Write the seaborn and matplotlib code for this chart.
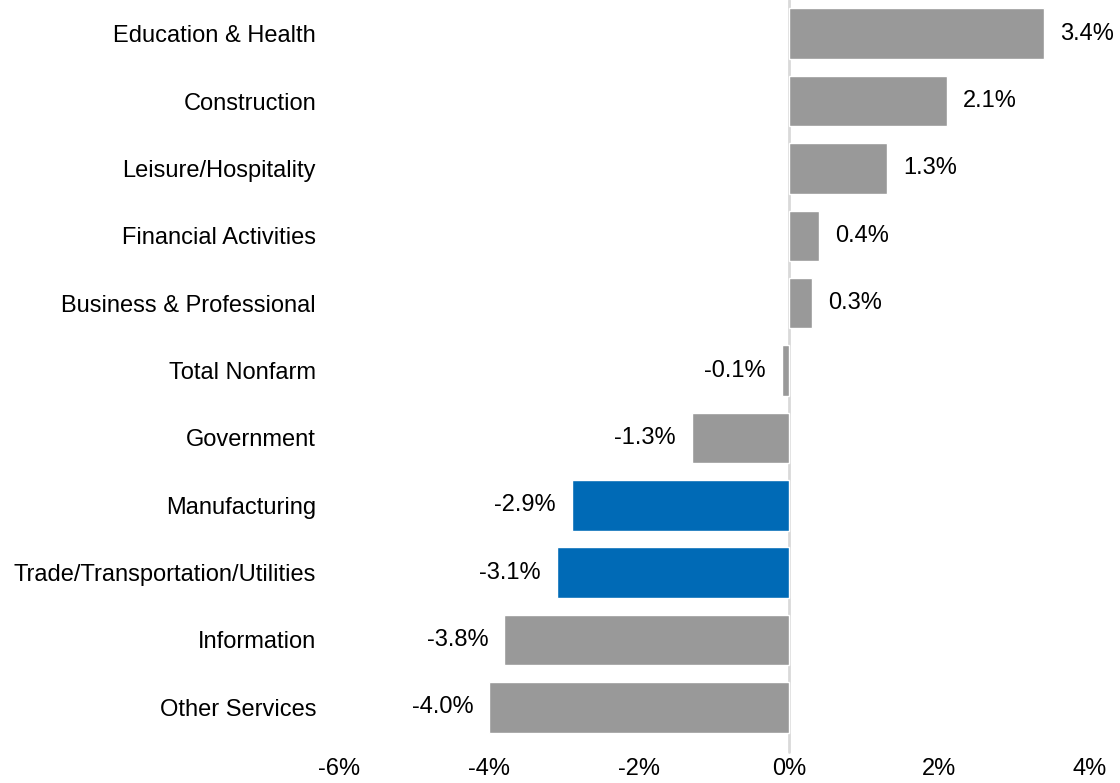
import pandas as pd
import matplotlib.pyplot as plt
import seaborn as sns

categories = ["Education & Health", "Construction", "Leisure/Hospitality",
              "Financial Activities", "Business & Professional", "Total Nonfarm",
              "Government", "Manufacturing", "Trade/Transportation/Utilities",
              "Information", "Other Services"]
values = [3.4, 2.1, 1.3, 0.4, 0.3, -0.1, -1.3, -2.9, -3.1, -3.8, -4.0]
highlight = ["Manufacturing", "Trade/Transportation/Utilities"]
xticks = [-6, -4, -2, 0, 2, 4]

df = pd.DataFrame({"sector": categories, "change": values})
palette = {c: ("#006AB6" if c in highlight else "#999999") for c in categories}

sns.set_style("white")
plt.rcParams['font.family'] = ['Liberation Sans', 'DejaVu Sans']
plt.rcParams['text.color'] = 'black'
plt.rcParams['xtick.color'] = 'black'
plt.rcParams['ytick.color'] = 'black'

fig = plt.figure(figsize=(11.2, 7.83), dpi=100)
ax = fig.add_axes([0.3027, 0.0536, 0.6700, 0.9464])

sns.barplot(data=df, x="change", y="sector", hue="sector", palette=palette,
            order=categories, legend=False, width=0.75, saturation=1, ax=ax)

# zero line runs a little past the bottom bar
ax.axvline(0, ymin=-0.015, ymax=1, color="#D9D9D9", lw=2, zorder=0, clip_on=False)
ax.set_xlim(-6, 4)
ax.set_ylim(len(categories) - 0.5, -0.5)
ax.set_xticks(xticks)
ax.set_xticklabels([f"{t}%" for t in xticks])
ax.set_xlabel("")
ax.set_ylabel("")
ax.tick_params(axis="both", length=0, labelsize=17)
ax.tick_params(axis="y", pad=16.5)
ax.tick_params(axis="x", pad=12)
for s in ax.spines.values():
    s.set_visible(False)

for i, v in enumerate(values):
    if v >= 0:
        ax.annotate(f"{v:.1f}%", (v, i), xytext=(11.5, 0), textcoords="offset points",
                    ha="left", va="center", fontsize=17)
    else:
        ax.annotate(f"{v:.1f}%", (v, i), xytext=(-11.5, 0), textcoords="offset points",
                    ha="right", va="center", fontsize=17)

fig.savefig("out.png", dpi=100)
